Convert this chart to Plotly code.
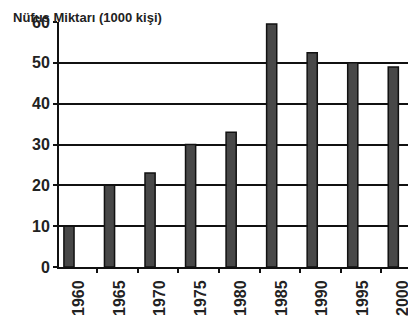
import plotly.graph_objects as go

years = [1960, 1965, 1970, 1975, 1980, 1985, 1990, 1995, 2000]
population = [10, 20, 23, 30, 33, 59.5, 52.5, 50, 49]
year_labels = [str(y) for y in years]
y_ticks = [0, 10, 20, 30, 40, 50, 60]
title_text = "Nüfus Miktarı (1000 kişi)"

FONT = "Liberation Sans, Arial, sans-serif"

fig = go.Figure()
fig.add_trace(go.Bar(
    x=years, y=population, width=1.25,
    marker=dict(color="#484848", line=dict(color="#111111", width=1.5)),
))

# page body has an 8px default margin, so offsets are reduced by 8
fig.update_layout(
    width=408, height=317,
    margin=dict(l=51, r=0, t=14, b=58, autoexpand=False),
    paper_bgcolor="white", plot_bgcolor="white",
    showlegend=False,
    font=dict(family=FONT, color="#111111"),
    xaxis=dict(
        range=[1958.77, 2002.8], automargin=False,
        tickmode="array", tickvals=years, ticktext=year_labels,
        tickangle=-90, ticks="", ticklabelshift=10, ticklabelstandoff=5,
        tickfont=dict(size=16, weight="bold", family=FONT, color="#222"),
        showgrid=False, zeroline=False,
        showline=True, linecolor="#111", linewidth=2,
        minor=dict(tickvals=[y + 3.5 for y in years[:-1]], ticks="outside",
                   ticklen=4, tickcolor="#111", tickwidth=1.5),
    ),
    yaxis=dict(
        range=[0, 60], tickvals=y_ticks, automargin=False,
        ticks="outside", ticklen=4, tickcolor="#111", tickwidth=2,
        tickfont=dict(size=16, weight="bold", family=FONT, color="#222"),
        showgrid=True, gridcolor="#111", gridwidth=2,
        zeroline=False,
        showline=True, linecolor="#111", linewidth=2,
    ),
    annotations=[dict(
        text=title_text, xref="paper", yref="paper",
        x=(11 - 59) / 357, y=1 + 14 / 245,
        xanchor="left", yanchor="top", showarrow=False,
        font=dict(size=13, weight="bold", family=FONT, color="#222"),
    )],
)

fig.write_html("out.html")
